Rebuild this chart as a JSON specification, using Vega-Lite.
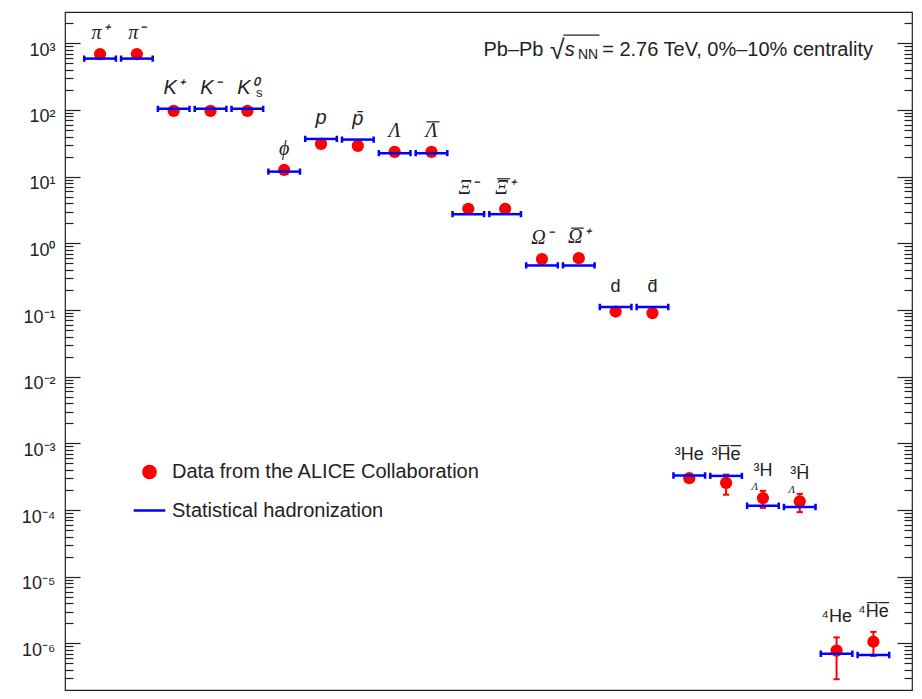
{
  "$schema": "https://vega.github.io/schema/vega-lite/v6.json",
  "width": 847,
  "height": 678,
  "autosize": {"type": "none"},
  "padding": {"left": 65, "top": 12, "right": 10, "bottom": 9},
  "background": "white",
  "config": {"view": {"stroke": "#222", "strokeWidth": 1.2}, "font": "Liberation Sans"},
  "data": {"values": [
    {"particle": "pi+", "label": "π⁺", "value": 690, "model": 590},
    {"particle": "pi-", "label": "π⁻", "value": 690, "model": 590},
    {"particle": "K+", "label": "K⁺", "value": 97, "model": 104},
    {"particle": "K-", "label": "K⁻", "value": 97, "model": 104},
    {"particle": "K0s", "label": "K⁰", "sub": "s", "value": 97, "model": 104},
    {"particle": "phi", "label": "ϕ", "value": 12.6, "model": 11.9},
    {"particle": "p", "label": "p", "value": 31, "model": 36.8},
    {"particle": "pbar", "label": "p̄", "value": 29, "model": 36},
    {"particle": "Lambda", "label": "Λ", "value": 23.6, "model": 22.5},
    {"particle": "Lambdabar", "label": "Λ", "value": 23.6, "model": 22.5},
    {"particle": "Xi-", "label": "Ξ⁻", "value": 3.3, "model": 2.74},
    {"particle": "Xibar+", "label": "Ξ⁺", "value": 3.3, "model": 2.74},
    {"particle": "Omega-", "label": "Ω⁻", "value": 0.58, "model": 0.466},
    {"particle": "Omegabar+", "label": "Ω⁺", "value": 0.6, "model": 0.466},
    {"particle": "d", "label": "d", "value": 0.095, "model": 0.111},
    {"particle": "dbar", "label": "d̄", "value": 0.09, "model": 0.111},
    {"particle": "3He", "label": "³He", "value": 0.0003, "model": 0.00033},
    {"particle": "3Hebar", "label": "³H̅e̅", "value": 0.000256, "model": 0.000325, "lo": 0.00017, "hi": 0.00034},
    {"particle": "3LH", "label": "³H", "sub": "Λ", "value": 0.000151, "model": 0.000116, "lo": 0.000108, "hi": 0.000194},
    {"particle": "3LHbar", "label": "³H̄", "sub": "Λ", "value": 0.000135, "model": 0.000111, "lo": 0.000093, "hi": 0.000175},
    {"particle": "4He", "label": "⁴He", "value": 7.8e-7, "model": 7.0e-7, "lo": 2.9e-7, "hi": 1.23e-6},
    {"particle": "4Hebar", "label": "⁴H̅e̅", "value": 1.06e-6, "model": 6.7e-7, "lo": 6.5e-7, "hi": 1.49e-6}
  ]},
  "resolve": {"axis": {"y": "independent"}},
  "layer": [
    {
      "transform": [{"filter": "isValid(datum.lo)"}],
      "mark": {"type": "rule", "color": "#ff0000", "strokeWidth": 2},
      "encoding": {
        "x": {"field": "particle", "type": "nominal", "axis": null, "scale": {"type": "point", "domain": ["pi+","pi-","K+","K-","K0s","phi","p","pbar","Lambda","Lambdabar","Xi-","Xibar+","Omega-","Omegabar+","d","dbar","3He","3Hebar","3LH","3LHbar","4He","4Hebar"], "padding": 1.05, "align": 0.476}},
        "y": {"field": "lo", "type": "quantitative", "axis": null, "scale": {"type": "log", "domain": [2e-7, 2950], "nice": false}},
        "y2": {"field": "hi"}
      }
    },
    {
      "transform": [{"filter": "isValid(datum.lo)"}, {"fold": ["lo", "hi"], "as": ["end", "ev"]}],
      "mark": {"type": "point", "shape": "stroke", "size": 40, "color": "#ff0000", "strokeWidth": 2, "opacity": 1},
      "encoding": {
        "x": {"field": "particle", "type": "nominal", "axis": null, "scale": {"type": "point", "domain": ["pi+","pi-","K+","K-","K0s","phi","p","pbar","Lambda","Lambdabar","Xi-","Xibar+","Omega-","Omegabar+","d","dbar","3He","3Hebar","3LH","3LHbar","4He","4Hebar"], "padding": 1.05, "align": 0.476}},
        "y": {"field": "ev", "type": "quantitative", "axis": null, "scale": {"type": "log", "domain": [2e-7, 2950], "nice": false}}
      }
    },
    {
      "mark": {"type": "point", "filled": true, "opacity": 1},
      "encoding": {
        "x": {"field": "particle", "type": "nominal", "axis": null, "scale": {"type": "point", "domain": ["pi+","pi-","K+","K-","K0s","phi","p","pbar","Lambda","Lambdabar","Xi-","Xibar+","Omega-","Omegabar+","d","dbar","3He","3Hebar","3LH","3LHbar","4He","4Hebar"], "padding": 1.05, "align": 0.476}},
        "y": {"field": "value", "type": "quantitative", "scale": {"type": "log", "domain": [2e-7, 2950], "nice": false},
          "axis": {"orient": "left", "title": null, "grid": false, "domain": false,
            "values": [3e-7,4e-7,5e-7,6e-7,7e-7,8e-7,9e-7,1e-6,2e-6,3e-6,4e-6,5e-6,6e-6,7e-6,8e-6,9e-6,1e-5,2e-5,3e-5,4e-5,5e-5,6e-5,7e-5,8e-5,9e-5,1e-4,2e-4,3e-4,4e-4,5e-4,6e-4,7e-4,8e-4,9e-4,0.001,0.002,0.003,0.004,0.005,0.006,0.007,0.008,0.009,0.01,0.02,0.03,0.04,0.05,0.06,0.07,0.08,0.09,0.1,0.2,0.3,0.4,0.5,0.6,0.7,0.8,0.9,1,2,3,4,5,6,7,8,9,10,20,30,40,50,60,70,80,90,100,200,300,400,500,600,700,800,900,1000,2000],
            "labelExpr": "abs(log(datum.value)/LN10 - round(log(datum.value)/LN10)) < 1e-6 ? '10' + (round(log(datum.value)/LN10) < 0 ? '⁻' : '') + ['⁰','¹','²','³','⁴','⁵','⁶','⁷','⁸','⁹'][abs(round(log(datum.value)/LN10))] : ''",
            "tickSize": {"condition": {"test": "abs(log(datum.value)/LN10 - round(log(datum.value)/LN10)) < 1e-6", "value": -15}, "value": -8},
            "tickColor": "#222", "tickWidth": 1.2,
            "labelFont": "Liberation Sans", "labelFontSize": 18, "labelColor": "#222",
            "labelPadding": 25, "labelBaseline": "middle", "labelOffset": 7,
            "labelOverlap": false, "labelFlush": false, "labelBound": false}},
        "color": {"datum": "Data from the ALICE Collaboration", "type": "nominal", "scale": {"domain": ["Data from the ALICE Collaboration", "Statistical hadronization"], "range": ["#ff0000", "#0000ff"]},
          "legend": {"title": null, "orient": "none", "legendX": 67, "legendY": 450, "padding": 0, "rowPadding": 9, "labelFontSize": 20, "labelOffset": 5, "labelFont": "Liberation Sans", "labelColor": "#222", "symbolStrokeWidth": 2.5, "labelLimit": 500}},
        "shape": {"datum": "Data from the ALICE Collaboration", "type": "nominal", "scale": {"domain": ["Data from the ALICE Collaboration", "Statistical hadronization"], "range": ["circle", "stroke"]},
          "legend": {"title": null, "orient": "none", "legendX": 67, "legendY": 450, "padding": 0, "rowPadding": 9, "labelFontSize": 20, "labelOffset": 5, "labelFont": "Liberation Sans", "labelColor": "#222", "symbolStrokeWidth": 2.5, "labelLimit": 500}},
        "size": {"datum": "Data from the ALICE Collaboration", "type": "nominal", "scale": {"domain": ["Data from the ALICE Collaboration", "Statistical hadronization"], "range": [150, 1000]},
          "legend": {"title": null, "orient": "none", "legendX": 67, "legendY": 450, "padding": 0, "rowPadding": 9, "labelFontSize": 20, "labelOffset": 5, "labelFont": "Liberation Sans", "labelColor": "#222", "symbolStrokeWidth": 2.5, "labelLimit": 500}}
      }
    },
    {
      "mark": {"type": "point", "filled": false, "opacity": 1, "strokeWidth": 2.5},
      "encoding": {
        "x": {"field": "particle", "type": "nominal", "axis": null, "scale": {"type": "point", "domain": ["pi+","pi-","K+","K-","K0s","phi","p","pbar","Lambda","Lambdabar","Xi-","Xibar+","Omega-","Omegabar+","d","dbar","3He","3Hebar","3LH","3LHbar","4He","4Hebar"], "padding": 1.05, "align": 0.476}},
        "y": {"field": "model", "type": "quantitative", "scale": {"type": "log", "domain": [2e-7, 2950], "nice": false},
          "axis": {"orient": "right", "title": null, "grid": false, "domain": false, "labels": false,
            "values": [3e-7,4e-7,5e-7,6e-7,7e-7,8e-7,9e-7,1e-6,2e-6,3e-6,4e-6,5e-6,6e-6,7e-6,8e-6,9e-6,1e-5,2e-5,3e-5,4e-5,5e-5,6e-5,7e-5,8e-5,9e-5,1e-4,2e-4,3e-4,4e-4,5e-4,6e-4,7e-4,8e-4,9e-4,0.001,0.002,0.003,0.004,0.005,0.006,0.007,0.008,0.009,0.01,0.02,0.03,0.04,0.05,0.06,0.07,0.08,0.09,0.1,0.2,0.3,0.4,0.5,0.6,0.7,0.8,0.9,1,2,3,4,5,6,7,8,9,10,20,30,40,50,60,70,80,90,100,200,300,400,500,600,700,800,900,1000,2000],
            "tickSize": {"condition": {"test": "abs(log(datum.value)/LN10 - round(log(datum.value)/LN10)) < 1e-6", "value": -15}, "value": -8},
            "tickColor": "#222", "tickWidth": 1.2}},
        "color": {"datum": "Statistical hadronization", "type": "nominal", "scale": {"domain": ["Data from the ALICE Collaboration", "Statistical hadronization"], "range": ["#ff0000", "#0000ff"]},
          "legend": {"title": null, "orient": "none", "legendX": 67, "legendY": 450, "padding": 0, "rowPadding": 9, "labelFontSize": 20, "labelOffset": 5, "labelFont": "Liberation Sans", "labelColor": "#222", "symbolStrokeWidth": 2.5, "labelLimit": 500}},
        "shape": {"datum": "Statistical hadronization", "type": "nominal", "scale": {"domain": ["Data from the ALICE Collaboration", "Statistical hadronization"], "range": ["circle", "stroke"]},
          "legend": {"title": null, "orient": "none", "legendX": 67, "legendY": 450, "padding": 0, "rowPadding": 9, "labelFontSize": 20, "labelOffset": 5, "labelFont": "Liberation Sans", "labelColor": "#222", "symbolStrokeWidth": 2.5, "labelLimit": 500}},
        "size": {"datum": "Statistical hadronization", "type": "nominal", "scale": {"domain": ["Data from the ALICE Collaboration", "Statistical hadronization"], "range": [150, 1000]},
          "legend": {"title": null, "orient": "none", "legendX": 67, "legendY": 450, "padding": 0, "rowPadding": 9, "labelFontSize": 20, "labelOffset": 5, "labelFont": "Liberation Sans", "labelColor": "#222", "symbolStrokeWidth": 2.5, "labelLimit": 500}}
      }
    },
    {
      "mark": {"type": "point", "shape": "M-1,-0.2L-1,0.2M1,-0.2L1,0.2", "size": 1000, "filled": false, "color": "#0000ff", "strokeWidth": 2.5, "opacity": 1},
      "encoding": {
        "x": {"field": "particle", "type": "nominal", "axis": null, "scale": {"type": "point", "domain": ["pi+","pi-","K+","K-","K0s","phi","p","pbar","Lambda","Lambdabar","Xi-","Xibar+","Omega-","Omegabar+","d","dbar","3He","3Hebar","3LH","3LHbar","4He","4Hebar"], "padding": 1.05, "align": 0.476}},
        "y": {"field": "model", "type": "quantitative", "axis": null, "scale": {"type": "log", "domain": [2e-7, 2950], "nice": false}}
      }
    },
    {
      "transform": [{"filter": {"field": "particle", "oneOf": ["pi+","pi-","phi","Lambda","Lambdabar","Xi-","Xibar+","Omega-","Omegabar+"]}}, {"calculate": "max(datum.model, isValid(datum.hi) ? datum.hi : datum.value)", "as": "anchor"}],
      "mark": {"type": "text", "font": "Liberation Serif", "fontStyle": "italic", "fontSize": 20, "dy": -15, "baseline": "alphabetic", "align": "center", "color": "#222"},
      "encoding": {
        "x": {"field": "particle", "type": "nominal", "axis": null, "scale": {"type": "point", "domain": ["pi+","pi-","K+","K-","K0s","phi","p","pbar","Lambda","Lambdabar","Xi-","Xibar+","Omega-","Omegabar+","d","dbar","3He","3Hebar","3LH","3LHbar","4He","4Hebar"], "padding": 1.05, "align": 0.476}},
        "y": {"field": "anchor", "type": "quantitative", "axis": null, "scale": {"type": "log", "domain": [2e-7, 2950], "nice": false}},
        "text": {"field": "label"}
      }
    },
    {
      "transform": [{"filter": {"field": "particle", "equal": "Lambdabar"}}, {"calculate": "max(datum.model, datum.value)", "as": "anchor"}],
      "mark": {"type": "rule", "color": "#222", "strokeWidth": 1.2, "xOffset": -5, "x2Offset": 8, "yOffset": -30},
      "encoding": {
        "x": {"field": "particle", "type": "nominal", "axis": null, "scale": {"type": "point", "domain": ["pi+","pi-","K+","K-","K0s","phi","p","pbar","Lambda","Lambdabar","Xi-","Xibar+","Omega-","Omegabar+","d","dbar","3He","3Hebar","3LH","3LHbar","4He","4Hebar"], "padding": 1.05, "align": 0.476}},
        "x2": {"field": "particle"},
        "y": {"field": "anchor", "type": "quantitative", "axis": null, "scale": {"type": "log", "domain": [2e-7, 2950], "nice": false}}
      }
    },
    {
      "transform": [{"filter": {"field": "particle", "oneOf": ["Xibar+", "Omegabar+"]}}, {"calculate": "max(datum.model, datum.value)", "as": "anchor"}],
      "mark": {"type": "rule", "color": "#222", "strokeWidth": 1.2, "xOffset": -8, "x2Offset": 5, "yOffset": -30},
      "encoding": {
        "x": {"field": "particle", "type": "nominal", "axis": null, "scale": {"type": "point", "domain": ["pi+","pi-","K+","K-","K0s","phi","p","pbar","Lambda","Lambdabar","Xi-","Xibar+","Omega-","Omegabar+","d","dbar","3He","3Hebar","3LH","3LHbar","4He","4Hebar"], "padding": 1.05, "align": 0.476}},
        "x2": {"field": "particle"},
        "y": {"field": "anchor", "type": "quantitative", "axis": null, "scale": {"type": "log", "domain": [2e-7, 2950], "nice": false}}
      }
    },
    {
      "transform": [{"filter": {"field": "particle", "oneOf": ["K+","K-","K0s","p","pbar"]}}, {"calculate": "max(datum.model, isValid(datum.hi) ? datum.hi : datum.value)", "as": "anchor"}],
      "mark": {"type": "text", "font": "Liberation Sans", "fontStyle": "italic", "fontSize": 20, "dy": -15, "baseline": "alphabetic", "align": "center", "color": "#222"},
      "encoding": {
        "x": {"field": "particle", "type": "nominal", "axis": null, "scale": {"type": "point", "domain": ["pi+","pi-","K+","K-","K0s","phi","p","pbar","Lambda","Lambdabar","Xi-","Xibar+","Omega-","Omegabar+","d","dbar","3He","3Hebar","3LH","3LHbar","4He","4Hebar"], "padding": 1.05, "align": 0.476}},
        "y": {"field": "anchor", "type": "quantitative", "axis": null, "scale": {"type": "log", "domain": [2e-7, 2950], "nice": false}},
        "text": {"field": "label"}
      }
    },
    {
      "transform": [{"filter": {"field": "particle", "oneOf": ["d","dbar","3He","3Hebar","3LH","3LHbar","4He","4Hebar"]}}, {"calculate": "max(datum.model, isValid(datum.hi) ? datum.hi : datum.value)", "as": "anchor"}],
      "mark": {"type": "text", "font": "Liberation Sans", "fontSize": 18, "dy": -15, "baseline": "alphabetic", "align": "center", "color": "#222"},
      "encoding": {
        "x": {"field": "particle", "type": "nominal", "axis": null, "scale": {"type": "point", "domain": ["pi+","pi-","K+","K-","K0s","phi","p","pbar","Lambda","Lambdabar","Xi-","Xibar+","Omega-","Omegabar+","d","dbar","3He","3Hebar","3LH","3LHbar","4He","4Hebar"], "padding": 1.05, "align": 0.476}},
        "y": {"field": "anchor", "type": "quantitative", "axis": null, "scale": {"type": "log", "domain": [2e-7, 2950], "nice": false}},
        "text": {"field": "label"}
      }
    },
    {
      "transform": [{"filter": {"field": "particle", "equal": "K0s"}}, {"calculate": "max(datum.model, datum.value)", "as": "anchor"}],
      "mark": {"type": "text", "font": "Liberation Sans", "fontSize": 13, "dx": 12, "dy": -12, "baseline": "alphabetic", "align": "center", "color": "#222"},
      "encoding": {
        "x": {"field": "particle", "type": "nominal", "axis": null, "scale": {"type": "point", "domain": ["pi+","pi-","K+","K-","K0s","phi","p","pbar","Lambda","Lambdabar","Xi-","Xibar+","Omega-","Omegabar+","d","dbar","3He","3Hebar","3LH","3LHbar","4He","4Hebar"], "padding": 1.05, "align": 0.476}},
        "y": {"field": "anchor", "type": "quantitative", "axis": null, "scale": {"type": "log", "domain": [2e-7, 2950], "nice": false}},
        "text": {"field": "sub"}
      }
    },
    {
      "transform": [{"filter": {"field": "particle", "oneOf": ["3LH", "3LHbar"]}}, {"calculate": "max(datum.model, isValid(datum.hi) ? datum.hi : datum.value)", "as": "anchor"}],
      "mark": {"type": "text", "font": "Liberation Serif", "fontStyle": "italic", "fontSize": 11, "dx": -8, "dy": -1, "baseline": "alphabetic", "align": "center", "color": "#222"},
      "encoding": {
        "x": {"field": "particle", "type": "nominal", "axis": null, "scale": {"type": "point", "domain": ["pi+","pi-","K+","K-","K0s","phi","p","pbar","Lambda","Lambdabar","Xi-","Xibar+","Omega-","Omegabar+","d","dbar","3He","3Hebar","3LH","3LHbar","4He","4Hebar"], "padding": 1.05, "align": 0.476}},
        "y": {"field": "anchor", "type": "quantitative", "axis": null, "scale": {"type": "log", "domain": [2e-7, 2950], "nice": false}},
        "text": {"field": "sub"}
      }
    },
    {
      "data": {"values": [{"a": "Pb–Pb", "r": "√", "s": "s", "sub": "NN", "rest": "= 2.76 TeV, 0%–10% centrality"}]},
      "layer": [
        {
          "mark": {"type": "text", "font": "Liberation Sans", "fontSize": 20, "dx": -35.3, "dy": 12.7, "baseline": "alphabetic", "align": "right", "color": "#222"},
          "encoding": {
            "x": {"datum": "Omegabar+", "type": "nominal", "axis": null, "scale": {"type": "point", "domain": ["pi+","pi-","K+","K-","K0s","phi","p","pbar","Lambda","Lambdabar","Xi-","Xibar+","Omega-","Omegabar+","d","dbar","3He","3Hebar","3LH","3LHbar","4He","4Hebar"], "padding": 1.05, "align": 0.476}},
            "y": {"datum": 1000, "type": "quantitative", "axis": null, "scale": {"type": "log", "domain": [2e-7, 2950], "nice": false}},
            "text": {"field": "a"}
          }
        },
        {
          "mark": {"type": "text", "font": "Liberation Sans", "fontSize": 27, "dx": -29, "dy": 16, "baseline": "alphabetic", "align": "left", "color": "#222"},
          "encoding": {
            "x": {"datum": "Omegabar+", "type": "nominal", "axis": null, "scale": {"type": "point", "domain": ["pi+","pi-","K+","K-","K0s","phi","p","pbar","Lambda","Lambdabar","Xi-","Xibar+","Omega-","Omegabar+","d","dbar","3He","3Hebar","3LH","3LHbar","4He","4Hebar"], "padding": 1.05, "align": 0.476}},
            "y": {"datum": 1000, "type": "quantitative", "axis": null, "scale": {"type": "log", "domain": [2e-7, 2950], "nice": false}},
            "text": {"field": "r"}
          }
        },
        {
          "mark": {"type": "text", "font": "Liberation Sans", "fontStyle": "italic", "fontSize": 20, "dx": -14, "dy": 12.7, "baseline": "alphabetic", "align": "left", "color": "#222"},
          "encoding": {
            "x": {"datum": "Omegabar+", "type": "nominal", "axis": null, "scale": {"type": "point", "domain": ["pi+","pi-","K+","K-","K0s","phi","p","pbar","Lambda","Lambdabar","Xi-","Xibar+","Omega-","Omegabar+","d","dbar","3He","3Hebar","3LH","3LHbar","4He","4Hebar"], "padding": 1.05, "align": 0.476}},
            "y": {"datum": 1000, "type": "quantitative", "axis": null, "scale": {"type": "log", "domain": [2e-7, 2950], "nice": false}},
            "text": {"field": "s"}
          }
        },
        {
          "mark": {"type": "text", "font": "Liberation Sans", "fontSize": 14, "dx": -0.8, "dy": 16, "baseline": "alphabetic", "align": "left", "color": "#222"},
          "encoding": {
            "x": {"datum": "Omegabar+", "type": "nominal", "axis": null, "scale": {"type": "point", "domain": ["pi+","pi-","K+","K-","K0s","phi","p","pbar","Lambda","Lambdabar","Xi-","Xibar+","Omega-","Omegabar+","d","dbar","3He","3Hebar","3LH","3LHbar","4He","4Hebar"], "padding": 1.05, "align": 0.476}},
            "y": {"datum": 1000, "type": "quantitative", "axis": null, "scale": {"type": "log", "domain": [2e-7, 2950], "nice": false}},
            "text": {"field": "sub"}
          }
        },
        {
          "mark": {"type": "text", "font": "Liberation Sans", "fontSize": 20, "dx": 23.4, "dy": 12.7, "baseline": "alphabetic", "align": "left", "color": "#222"},
          "encoding": {
            "x": {"datum": "Omegabar+", "type": "nominal", "axis": null, "scale": {"type": "point", "domain": ["pi+","pi-","K+","K-","K0s","phi","p","pbar","Lambda","Lambdabar","Xi-","Xibar+","Omega-","Omegabar+","d","dbar","3He","3Hebar","3LH","3LHbar","4He","4Hebar"], "padding": 1.05, "align": 0.476}},
            "y": {"datum": 1000, "type": "quantitative", "axis": null, "scale": {"type": "log", "domain": [2e-7, 2950], "nice": false}},
            "text": {"field": "rest"}
          }
        },
        {
          "mark": {"type": "rule", "color": "#222", "strokeWidth": 1.2, "xOffset": -15.5, "x2Offset": 20.7, "yOffset": -8.3},
          "encoding": {
            "x": {"datum": "Omegabar+", "type": "nominal", "axis": null, "scale": {"type": "point", "domain": ["pi+","pi-","K+","K-","K0s","phi","p","pbar","Lambda","Lambdabar","Xi-","Xibar+","Omega-","Omegabar+","d","dbar","3He","3Hebar","3LH","3LHbar","4He","4Hebar"], "padding": 1.05, "align": 0.476}},
            "x2": {"datum": "Omegabar+"},
            "y": {"datum": 1000, "type": "quantitative", "axis": null, "scale": {"type": "log", "domain": [2e-7, 2950], "nice": false}}
          }
        }
      ]
    }
  ]
}
